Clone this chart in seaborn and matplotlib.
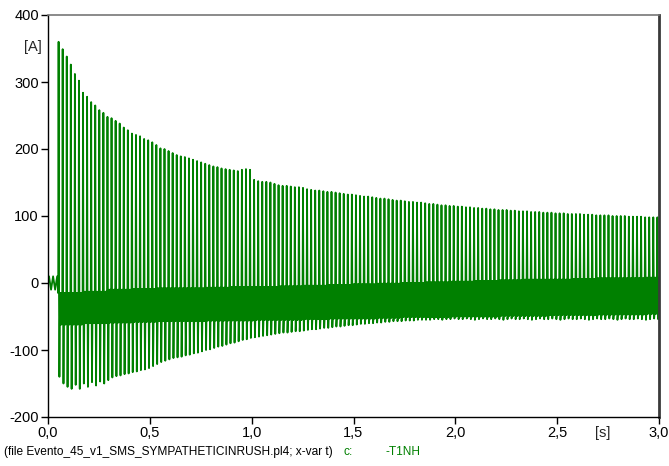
import numpy as np
import pandas as pd
import matplotlib
matplotlib.use("Agg")
import matplotlib.pyplot as plt
import seaborn as sns

# ---------------- data ----------------
# one inrush cycle every 20 ms (50 Hz), first spike at t = 0.05 s
cycle_start = 0.05
cycle_len = 0.02

# positive spike value of every cycle [A]
peaks = [
    360, 349, 338, 326, 312, 302, 284, 278, 270, 265,
    258, 254, 248, 246, 242, 238, 232, 228, 223, 221,
    219, 215, 213, 210, 206, 201, 200, 197, 194, 191,
    189, 188, 186, 184, 182, 180, 178, 176, 174, 173,
    171, 170, 169, 168, 167, 169, 170, 169, 154, 152,
    151, 151, 150, 148, 146, 145, 145, 144, 143, 143,
    142, 140, 139, 138, 138, 137, 136, 136, 135, 134,
    133, 132, 132, 131, 130, 129, 129, 128, 127, 126,
    126, 125, 124, 123, 123, 122, 121, 121, 120, 120,
    119, 118, 118, 117, 116, 116, 115, 115, 114, 114,
    113, 113, 112, 112, 111, 111, 110, 110, 109, 109,
    109, 108, 108, 107, 107, 107, 106, 106, 106, 105,
    105, 105, 104, 104, 104, 103, 103, 103, 103, 102,
    102, 102, 101, 101, 101, 101, 100, 100, 100, 100,
    99, 99, 99, 99, 98, 98, 98, 98,
]

# negative excursion of every cycle [A]
troughs = [
    -140, -150, -155, -158, -152, -158, -150, -155, -148, -153,
    -147, -150, -145, -141, -139, -138, -136, -135, -133, -132,
    -130, -129, -127, -124, -121, -118, -116, -114, -112, -111,
    -110, -108, -107, -105, -104, -102, -100, -99, -97, -95,
    -94, -92, -90, -89, -87, -85, -84, -82, -81, -80,
    -79, -78, -77, -76, -75, -74, -74, -73, -72, -72,
    -71, -70, -69, -69, -68, -67, -67, -66, -65, -65,
    -64, -63, -63, -62, -61, -61, -60, -60, -59, -59,
    -58, -58, -57, -57, -57, -56, -56, -56, -55, -55,
    -55, -55, -54, -54, -55, -54, -54, -53, -54, -54,
    -53, -54, -55, -54, -53, -54, -54, -53, -54, -55,
    -54, -53, -54, -54, -53, -54, -55, -54, -53, -54,
    -54, -53, -54, -55, -54, -53, -54, -54, -53, -54,
    -55, -54, -53, -54, -54, -53, -54, -55, -54, -53,
    -54, -54, -53, -54, -55, -54, -53, -54,
]

# dense band between spikes: upper and lower edge per block of 6 cycles [A]
band_top = [-15, -13, -10, -9, -8, -8, -7, -6, -6, -5, -4, -3, -2,
            -1, 0, 1, 2, 3, 4, 5, 5, 6, 7, 7, 8]
band_bot = [-62, -60, -59, -58, -57, -57, -56, -56, -55, -55, -54, -53, -53,
            -52, -51, -51, -50, -50, -49, -49, -48, -48, -47, -47, -46]

# small current before energization (0 ... 0.05 s, 5 ms steps) [A]
pre_values = [0, 10, 0, -10, 0, 10, 0, -10, 0, 10]

y_ticks = [-200, -100, 0, 100, 200, 300, 400]
x_ticks = [0.0, 0.5, 1.0, 1.5, 2.0, 2.5, 3.0]
x_tick_labels = ["0,0", "0,5", "1,0", "1,5", "2,0", "2,5", "3,0"]

# ---------------- build the polyline ----------------
pre_t = np.arange(len(pre_values)) * 0.005
ts = list(pre_t)
vs = list(pre_values)
# shape of one cycle: fractions of the period where each vertex sits
frac = [0.0, 0.1, 0.2, 0.3, 0.4, 0.5, 0.6, 0.7, 0.8, 0.9]
for k, (pk, tr) in enumerate(zip(peaks, troughs)):
    bt = band_top[k // 6]
    bb = band_bot[k // 6]
    vals = [bt, pk, bt, tr, bb, bt, bb, bt, bb, bt]
    t0 = cycle_start + k * cycle_len
    for f, v in zip(frac, vals):
        ts.append(t0 + f * cycle_len)
        vs.append(v)

df = pd.DataFrame({"t": ts, "i": vs})

# ---------------- figure ----------------
sns.set_style("white")
plt.rcParams["font.family"] = ["Liberation Sans", "DejaVu Sans"]

fig = plt.figure(figsize=(6.69, 4.66), dpi=100)
ax = fig.add_axes([48 / 669, 1 - 417 / 466, (659 - 48) / 669, (417 - 15) / 466])

sns.lineplot(data=df, x="t", y="i", ax=ax, color="#008000", lw=1.3,
             sort=False, estimator=None)

ax.set_xlim(0, 3.0)
ax.set_ylim(-200, 400)
ax.set_xticks(x_ticks)
ax.set_xticklabels(x_tick_labels)
ax.set_yticks(y_ticks)
ax.set_yticklabels([str(v) for v in y_ticks])
ax.set_xlabel("")
ax.set_ylabel("")
ax.tick_params(axis="both", direction="out", length=5, width=1, color="black",
               labelsize=10.5, labelcolor="black", pad=1.5,
               bottom=True, left=True, top=False, right=False)

for side in ["left", "bottom"]:
    ax.spines[side].set_color("black")
    ax.spines[side].set_linewidth(1.0)
ax.spines["top"].set_color("#777777")
ax.spines["top"].set_linewidth(1.2)
ax.spines["right"].set_color("#3a3a3a")
ax.spines["right"].set_linewidth(2.0)

# unit labels
fig.text(33 / 669, 1 - 47 / 466, "[A]", ha="center", va="center", fontsize=10.5)
fig.text(603 / 669, 1 - 433 / 466, "[s]", ha="center", va="center", fontsize=10.5)

# footer
fig.text(4 / 669, 1 - 452 / 466,
         "(file Evento_45_v1_SMS_SYMPATHETICINRUSH.pl4; x-var t)",
         ha="left", va="center", fontsize=8.6, color="black")
fig.text(344 / 669, 1 - 452 / 466, "c:", ha="left", va="center",
         fontsize=8.6, color="#008000")
fig.text(385 / 669, 1 - 452 / 466, "-T1NH", ha="left", va="center",
         fontsize=8.6, color="#008000")

fig.savefig("out.png", dpi=100)
